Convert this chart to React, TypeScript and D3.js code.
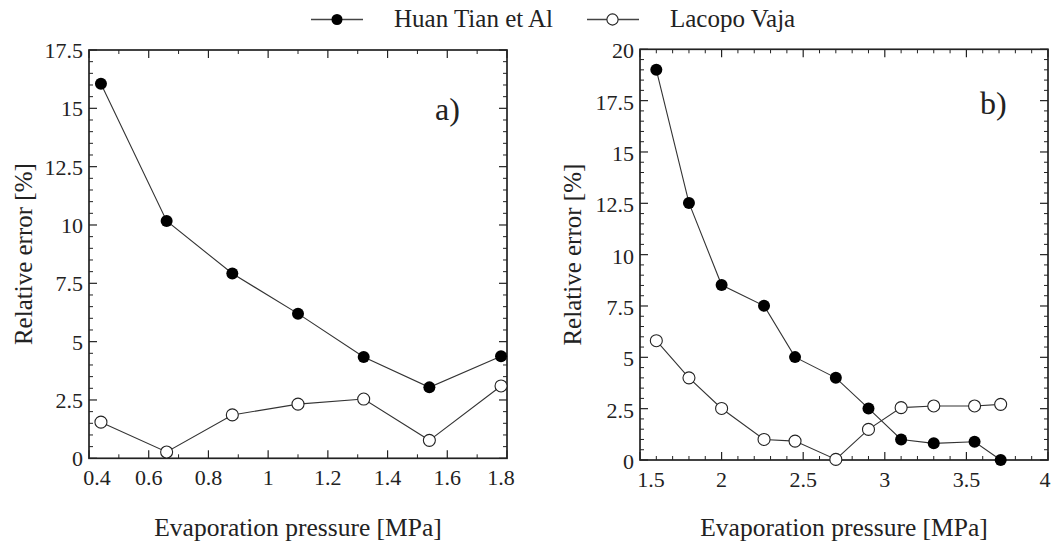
import React from "react";
import * as d3 from "d3";

// Panel a)
const aPressure = [0.44, 0.66, 0.88, 1.1, 1.32, 1.54, 1.78];
const aHuan = [16.05, 10.17, 7.92, 6.2, 4.34, 3.04, 4.37];
const aVaja = [1.55, 0.27, 1.86, 2.32, 2.54, 0.77, 3.1];
const aXTicks = [0.4, 0.6, 0.8, 1, 1.2, 1.4, 1.6, 1.8];
const aYTicks = [0, 2.5, 5, 7.5, 10, 12.5, 15, 17.5];

// Panel b)
const bPressure = [1.6, 1.8, 2.0, 2.26, 2.45, 2.7, 2.9, 3.1, 3.3, 3.55, 3.71];
const bHuan = [19.0, 12.52, 8.52, 7.51, 5.01, 4.0, 2.51, 1.0, 0.81, 0.89, 0.0];
const bVaja = [5.81, 4.0, 2.51, 1.0, 0.92, 0.03, 1.49, 2.55, 2.63, 2.63, 2.71];
const bXTicks = [1.5, 2, 2.5, 3, 3.5, 4];
const bYTicks = [0, 2.5, 5, 7.5, 10, 12.5, 15, 17.5, 20];

const seriesNames = ["Huan Tian et Al", "Lacopo Vaja"];

const INK = "#222";
const serif = { fontFamily: "Liberation Serif" };

type PanelProps = {
  left: number; right: number; top: number; bottom: number;
  xDomain: [number, number]; yDomain: [number, number];
  xTicks: number[]; yTicks: number[];
  xs: number[]; huan: number[]; vaja: number[];
  tag: string; tagX: number; tagY: number;
  yLabelX: number; firstShift: number; lastShift: number; yLabelDy: number;
};

function Panel(p: PanelProps) {
  const x = d3.scaleLinear().domain(p.xDomain).range([p.left, p.right]);
  const y = d3.scaleLinear().domain(p.yDomain).range([p.bottom, p.top]);
  const xMinor = d3.range(p.xDomain[0], p.xDomain[1] + 1e-9, 0.1);
  const yMinor = d3.range(p.yDomain[0], p.yDomain[1] + 1e-9, 0.5);
  const line = d3.line<number>().x((_, i) => x(p.xs[i])).y((d) => y(d));
  const isMajorX = (v: number) => p.xTicks.some((t) => Math.abs(t - v) < 1e-6);
  const isMajorY = (v: number) => p.yTicks.some((t) => Math.abs(t - v) < 1e-6);
  const cx = (p.left + p.right) / 2;
  const cy = (p.top + p.bottom) / 2;
  const n = p.xTicks.length;
  return (
    <g>
      {xMinor.filter((v) => !isMajorX(v)).map((v, i) => (
        <g key={"xm" + i} stroke={INK} strokeWidth={1}>
          <line x1={x(v)} x2={x(v)} y1={p.bottom} y2={p.bottom - 4} />
          <line x1={x(v)} x2={x(v)} y1={p.top} y2={p.top + 4} />
        </g>
      ))}
      {p.xTicks.map((v, i) => (
        <g key={"xM" + i} stroke={INK} strokeWidth={1.2}>
          <line x1={x(v)} x2={x(v)} y1={p.bottom} y2={p.bottom - 8} />
          <line x1={x(v)} x2={x(v)} y1={p.top} y2={p.top + 8} />
        </g>
      ))}
      {yMinor.filter((v) => !isMajorY(v)).map((v, i) => (
        <g key={"ym" + i} stroke={INK} strokeWidth={1}>
          <line x1={p.left} x2={p.left + 4} y1={y(v)} y2={y(v)} />
          <line x1={p.right} x2={p.right - 4} y1={y(v)} y2={y(v)} />
        </g>
      ))}
      {p.yTicks.map((v, i) => (
        <g key={"yM" + i} stroke={INK} strokeWidth={1.2}>
          <line x1={p.left} x2={p.left + 8} y1={y(v)} y2={y(v)} />
          <line x1={p.right} x2={p.right - 8} y1={y(v)} y2={y(v)} />
        </g>
      ))}
      <rect x={p.left} y={p.top} width={p.right - p.left} height={p.bottom - p.top}
        fill="none" stroke={INK} strokeWidth={1.7} />
      {p.xTicks.map((v, i) => (
        <text key={"xl" + i}
          x={x(v) + (i === 0 ? p.firstShift : i === n - 1 ? p.lastShift : 0)}
          y={p.bottom + 27} textAnchor="middle"
          style={serif} fontSize={22} fill={INK}>{String(v)}</text>
      ))}
      {p.yTicks.map((v, i) => (
        <text key={"yl" + i} x={p.left - 6} y={y(v) + 7 + p.yLabelDy} textAnchor="end"
          style={serif} fontSize={22} fill={INK}>{String(v)}</text>
      ))}
      <text x={cx} y={536} textAnchor="middle" style={serif}
        fontSize={25.5} fill={INK}>Evaporation pressure [MPa]</text>
      <text transform={`translate(${p.yLabelX},${cy}) rotate(-90)`} textAnchor="middle"
        style={serif} fontSize={25} fill={INK}>Relative error [%]</text>
      <text x={p.tagX} y={p.tagY} style={serif} fontSize={32} fill={INK}>{p.tag}</text>
      <path d={line(p.vaja) || ""} fill="none" stroke="#333" strokeWidth={1.1} />
      <path d={line(p.huan) || ""} fill="none" stroke="#333" strokeWidth={1.1} />
      {p.huan.map((v, i) => (
        <circle key={"h" + i} cx={x(p.xs[i])} cy={y(v)} r={6} fill="#000" />
      ))}
      {p.vaja.map((v, i) => (
        <circle key={"v" + i} cx={x(p.xs[i])} cy={y(v)} r={6} fill="#fff" stroke="#222" strokeWidth={1.1} />
      ))}
    </g>
  );
}

export default function App() {
  return (
    <svg width={1055} height={545}
      style={{ position: "absolute", left: 0, top: 0, fontFamily: "Liberation Serif" }}>
      <rect width={1055} height={545} fill="#fff" />
      <g>
        <line x1={311} x2={363} y1={19.5} y2={19.5} stroke="#444" strokeWidth={1.3} />
        <circle cx={337} cy={19.5} r={5.5} fill="#000" />
        <text x={394} y={27} style={serif} fontSize={25} fill={INK}>{seriesNames[0]}</text>
        <line x1={587} x2={639} y1={19.5} y2={19.5} stroke="#444" strokeWidth={1.3} />
        <circle cx={612.5} cy={19.5} r={5.6} fill="#fff" stroke="#222" strokeWidth={1.1} />
        <text x={670} y={27} style={serif} fontSize={25} fill={INK}>{seriesNames[1]}</text>
      </g>
      <Panel left={89} right={507} top={50} bottom={458.3}
        xDomain={[0.4, 1.8]} yDomain={[0, 17.5]} xTicks={aXTicks} yTicks={aYTicks}
        xs={aPressure} huan={aHuan} vaja={aVaja}
        tag="a)" tagX={435} tagY={120} yLabelX={32} firstShift={8} lastShift={-6} yLabelDy={1} />
      <Panel left={640} right={1048} top={49.3} bottom={460}
        xDomain={[1.5, 4]} yDomain={[0, 20]} xTicks={bXTicks} yTicks={bYTicks}
        xs={bPressure} huan={bHuan} vaja={bVaja}
        tag="b)" tagX={980} tagY={114} yLabelX={581} firstShift={11} lastShift={-3} yLabelDy={2} />
    </svg>
  );
}
